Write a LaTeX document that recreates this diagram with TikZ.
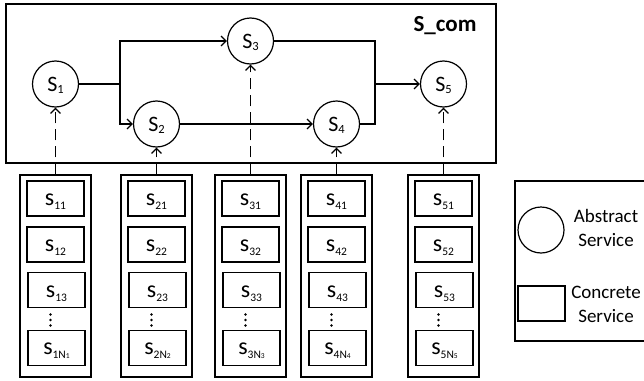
\documentclass[tikz,border=0pt]{standalone}
\usepackage{fontspec}
\setmainfont{Carlito}
\usetikzlibrary{arrows.meta}

% labels of abstract services: S with an index
\newcommand\absname[1]{\raisebox{-7.8pt}[0pt][0pt]{\fontsize{22}{22}\selectfont S\raisebox{-1.5pt}{\fontsize{12.5}{12.5}\selectfont #1}}}
% labels of concrete services: s with a double index
\newcommand\conname[1]{\raisebox{-7pt}[0pt][0pt]{\fontsize{24}{24}\selectfont s\raisebox{-4pt}{\fontsize{11.5}{11.5}\selectfont #1}}}
% last concrete service of a column: s_{iN_i}
\newcommand\conlast[1]{\raisebox{-7pt}[0pt][0pt]{\fontsize{24}{24}\selectfont s\raisebox{-4pt}{\fontsize{11.5}{11.5}\selectfont #1N{\fontsize{7.5}{7.5}\selectfont #1}}}}

\begin{document}
\begin{tikzpicture}[x=1pt,y=-1pt,line width=1.2pt,
  abstract/.style={circle,draw,minimum size=46pt,inner sep=0pt},
  concrete/.style={rectangle,draw,minimum width=57pt,minimum height=35pt,inner sep=0pt},
  column/.style={rectangle,draw,minimum width=71pt,minimum height=202pt,inner sep=0pt},
  legendtext/.style={anchor=base,inner sep=0pt,font=\fontsize{19}{19}\selectfont},
  flow/.style={-{Straight Barb[length=5pt,width=10pt]}},
  bind/.style={flow,dash pattern=on 11pt off 6pt},
]
\useasboundingbox (0,0) rectangle (644,380);

% composite service frame
\node[draw,rectangle,minimum width=490pt,minimum height=159pt,inner sep=0pt] (scom) at (251,83.5) {};
\node[anchor=base west,inner sep=0pt,font=\fontsize{23}{23}\selectfont\bfseries] (scomlabel) at (413,31) {S\_com};

% abstract services
\node[abstract] (S1) at (55.5,84) {\absname{1}};
\node[abstract] (S2) at (156.5,124) {\absname{2}};
\node[abstract] (S3) at (250.5,41) {\absname{3}};
\node[abstract] (S4) at (336.5,124) {\absname{4}};
\node[abstract] (S5) at (443.5,84) {\absname{5}};

% control flow
\coordinate (j1) at (120,84);
\coordinate (j2) at (375,84);
\draw (S1) -- (j1);
\draw[flow] (j1) |- (S3);
\draw[flow] (j1) |- (S2);
\draw[flow] (S2) -- (S4);
\draw (S3) -| (j2);
\draw (S4) -| (j2);
\draw[flow] (j2) -- (S5);

% candidate concrete services of each abstract service
\foreach \cx/\i in {55.5/1,156.5/2,250.5/3,336.5/4,443.5/5}{
  \node[column] (L\i) at (\cx,276) {};
  \node[concrete] (s\i1) at (\cx,198.5) {\conname{\i1}};
  \node[concrete] (s\i2) at (\cx,244.5) {\conname{\i2}};
  \node[concrete] (s\i3) at (\cx+1,290.2) {\conname{\i3}};
  \node[concrete] (s\i N) at (\cx+1,347.8) {\conlast{\i}};
  \foreach \dy in {314.5,320,325.5}
    \fill (\cx-5,\dy) circle (1.4pt);
  \draw[bind] (L\i) -- (S\i);
}

% legend
\draw (515,181) rectangle (660,341);
\node[abstract] (legcircle) at (541,230) {};
\node[concrete,minimum width=47pt] (legrect) at (541.5,303.5) {};
\node[legendtext] (abs1) at (606,222) {Abstract};
\node[legendtext] (abs2) at (606,246.5) {Service};
\node[legendtext] (con1) at (606,298) {Concrete};
\node[legendtext] (con2) at (606,322) {Service};
\end{tikzpicture}
\end{document}
